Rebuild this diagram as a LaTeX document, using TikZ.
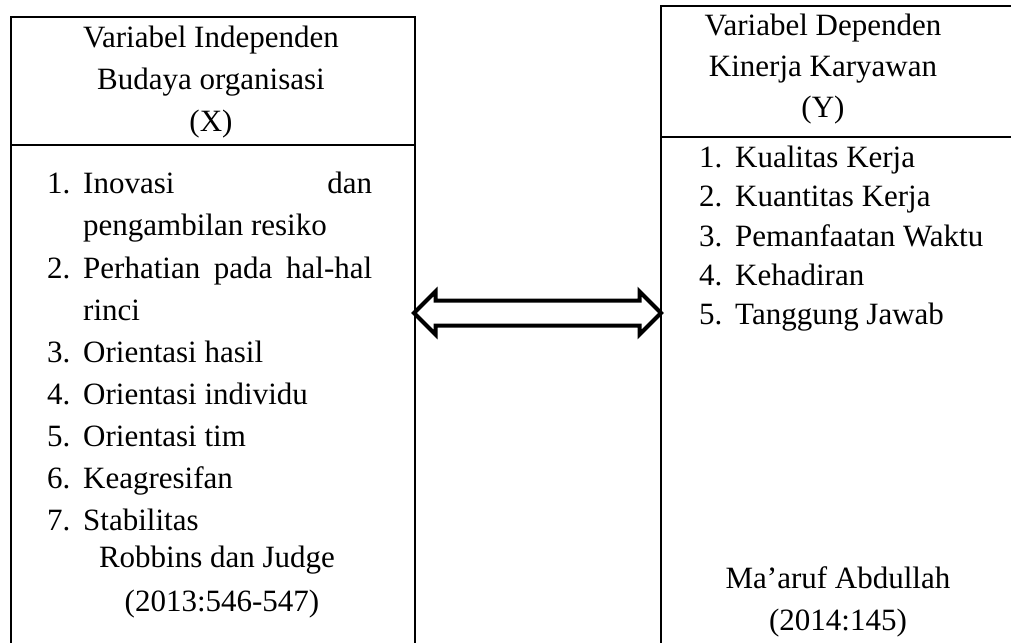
\documentclass[tikz,border=0pt]{standalone}
\usepackage{fontspec}
\setmainfont{Liberation Serif}
\usetikzlibrary{shapes.arrows}

\newcommand{\nomor}[1]{\makebox[36pt][l]{#1}}
\newcommand{\rata}[1]{\makebox[289pt][s]{#1}}

\tikzset{
  kotak/.style={draw, line width=2.6pt, inner sep=0pt, outer sep=0pt, anchor=north west},
  judul/.style={inner sep=0pt, anchor=base},
  butir/.style={inner sep=0pt, anchor=base west},
  panahganda/.style={draw, line width=4pt, double arrow, double arrow head extend=9pt,
    inner xsep=0pt, inner ysep=10.5pt, minimum height=247pt, outer sep=0pt},
}

\begin{document}
\begin{tikzpicture}[x=1pt,y=-1pt,font=\fontsize{31}{42}\selectfont]
    \useasboundingbox (0,0) rectangle (1011,642);

    % Kotak variabel X
    \node[kotak, minimum width=404pt, minimum height=128pt] (xkepala) at (11,17) {};
    \node[kotak, minimum width=404pt, minimum height=560pt] (xbadan) at (xkepala.south west) {};

    % Kotak variabel Y
    \node[kotak, minimum width=440pt, minimum height=131pt] (ykepala) at (661,6) {};
    \node[kotak, minimum width=440pt, minimum height=560pt] (ybadan) at (ykepala.south west) {};

    % Judul X
    \node[judul] (xj1) at (211,48) {Variabel Independen};
    \node[judul] (xj2) at (211,89) {Budaya organisasi};
    \node[judul] (xj3) at (211,131) {(X)};

    % Indikator X
    \node[butir] (x1) at (47,193) {\nomor{1.}\rata{Inovasi dan}};
    \node[butir] (x1b) at (83,235) {pengambilan resiko};
    \node[butir] (x2) at (47,278) {\nomor{2.}\rata{Perhatian pada hal-hal}};
    \node[butir] (x2b) at (83,320) {rinci};
    \node[butir] (x3) at (47,362) {\nomor{3.}Orientasi hasil};
    \node[butir] (x4) at (47,404) {\nomor{4.}Orientasi individu};
    \node[butir] (x5) at (47,446) {\nomor{5.}Orientasi tim};
    \node[butir] (x6) at (47,488) {\nomor{6.}Keagresifan};
    \node[butir] (x7) at (47,530) {\nomor{7.}Stabilitas};
    \node[judul] (xsumber1) at (217,567) {Robbins dan Judge};
    \node[judul] (xsumber2) at (222,611) {(2013:546-547)};

    % Judul Y
    \node[judul] (yj1) at (823,36) {Variabel Dependen};
    \node[judul] (yj2) at (823,77) {Kinerja Karyawan};
    \node[judul] (yj3) at (823,117) {(Y)};

    % Indikator Y
    \node[butir] (y1) at (699,167) {\nomor{1.}Kualitas Kerja};
    \node[butir] (y2) at (699,206) {\nomor{2.}Kuantitas Kerja};
    \node[butir] (y3) at (699,246) {\nomor{3.}Pemanfaatan Waktu};
    \node[butir] (y4) at (699,285) {\nomor{4.}Kehadiran};
    \node[butir] (y5) at (699,324) {\nomor{5.}Tanggung Jawab};
    \node[judul] (ysumber1) at (838,588) {Ma'aruf Abdullah};
    \node[judul] (ysumber2) at (838,630) {(2014:145)};

    % Hubungan X dan Y
    \node[panahganda] (panah) at (537.5,313) {};
\end{tikzpicture}
\end{document}
